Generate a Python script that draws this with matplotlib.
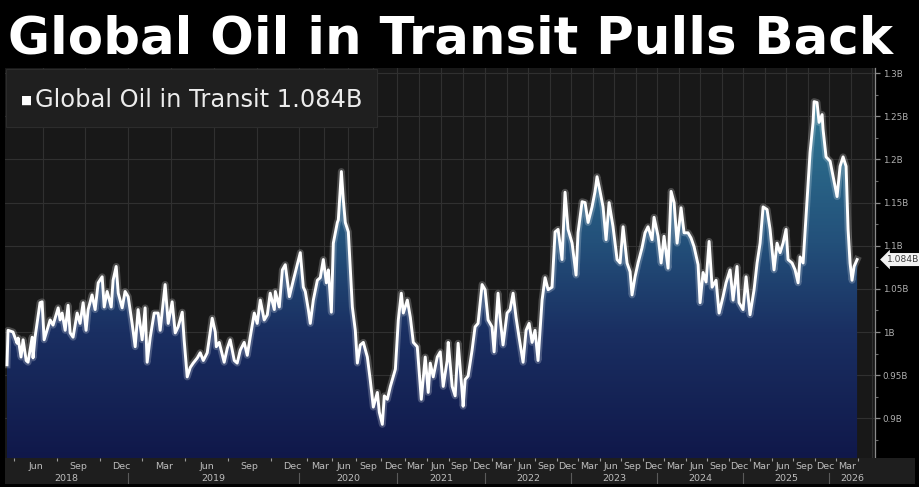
import numpy as np
import matplotlib
matplotlib.use("Agg")
import matplotlib.pyplot as plt
from matplotlib.colors import LinearSegmentedColormap
from matplotlib.transforms import blended_transform_factory
from matplotlib.patches import Rectangle

# ---------------- data (decimal year, billion barrels) ----------------
years = [
 2018.292,2018.298,2018.327,2018.351,2018.357,2018.374,2018.386,2018.404,2018.415,2018.439,
 2018.444,2018.456,2018.485,2018.497,2018.509,2018.526,2018.544,2018.561,2018.573,2018.591,
 2018.602,2018.614,2018.632,2018.649,2018.661,2018.678,2018.702,2018.719,2018.737,2018.754,
 2018.766,2018.789,2018.807,2018.825,2018.848,2018.860,2018.877,2018.901,2018.912,2018.930,
 2018.942,2018.965,2018.982,2019.000,2019.023,2019.041,2019.058,2019.082,2019.099,2019.111,
 2019.129,2019.152,2019.175,2019.187,2019.216,2019.234,2019.257,2019.275,2019.292,2019.316,
 2019.327,2019.345,2019.363,2019.380,2019.404,2019.421,2019.439,2019.462,2019.491,2019.509,
 2019.515,2019.532,2019.561,2019.579,2019.596,2019.620,2019.637,2019.655,2019.678,2019.696,
 2019.713,2019.737,2019.754,2019.772,2019.795,2019.813,2019.830,2019.854,2019.860,2019.883,
 2019.901,2019.918,2019.942,2019.965,
 2020.010,2020.041,2020.061,2020.092,2020.112,2020.143,2020.184,2020.214,2020.245,2020.276,
 2020.296,2020.327,2020.347,2020.388,2020.398,2020.429,2020.449,2020.469,2020.500,2020.541,
 2020.571,2020.592,2020.622,2020.653,2020.694,2020.724,2020.755,2020.796,2020.816,2020.847,
 2020.867,2020.898,2020.929,2020.959,2020.980,
 2021.011,2021.045,2021.068,2021.114,2021.148,2021.182,2021.227,2021.273,2021.318,2021.352,
 2021.375,2021.409,2021.455,2021.489,2021.523,2021.568,2021.580,2021.625,2021.659,2021.693,
 2021.739,2021.750,2021.773,2021.807,2021.852,2021.886,2021.920,2021.966,
 2022.000,2022.035,2022.081,2022.105,2022.151,2022.174,2022.209,2022.256,2022.291,2022.326,
 2022.360,2022.395,2022.442,2022.477,2022.512,2022.547,2022.581,2022.616,2022.663,2022.698,
 2022.733,2022.779,2022.814,2022.849,2022.895,2022.930,2022.965,
 2023.012,2023.058,2023.081,2023.128,2023.163,2023.198,2023.244,2023.279,2023.302,2023.337,
 2023.372,2023.407,2023.442,2023.488,2023.535,2023.570,2023.605,2023.651,2023.686,2023.709,
 2023.744,2023.779,2023.826,2023.860,2023.895,2023.942,2023.965,
 2024.012,2024.047,2024.081,2024.128,2024.163,2024.198,2024.233,2024.279,2024.314,2024.360,
 2024.395,2024.430,2024.477,2024.500,2024.535,2024.570,2024.605,2024.640,2024.686,2024.721,
 2024.767,2024.802,2024.849,2024.884,2024.930,2024.953,
 2025.000,2025.035,2025.081,2025.128,2025.163,2025.198,2025.233,2025.279,2025.314,2025.360,
 2025.395,2025.430,2025.465,2025.500,2025.523,2025.570,2025.605,2025.640,2025.663,2025.698,
 2025.744,2025.779,2025.814,2025.826,2025.860,2025.884,2025.919,2025.930,2025.965,
 2026.012,2026.047,2026.093,2026.128,2026.163,2026.198,2026.221,2026.244,2026.267,2026.291,
 2026.326,
]
oil_in_transit = [
 0.962,1.002,1.000,0.987,0.993,0.971,0.991,0.967,0.965,0.994,
 0.970,0.994,1.034,1.035,0.991,1.002,1.014,1.008,1.016,1.028,
 1.014,1.022,1.002,1.031,0.999,0.994,1.022,1.010,1.034,1.002,
 1.026,1.043,1.026,1.057,1.064,1.029,1.047,1.029,1.060,1.076,
 1.045,1.028,1.047,1.041,1.010,0.983,1.026,0.991,1.028,0.965,
 0.994,1.022,1.022,1.002,1.055,1.010,1.035,0.999,1.006,1.023,
 0.991,0.948,0.959,0.964,0.970,0.976,0.967,0.976,1.016,1.000,
 0.983,0.988,0.965,0.981,0.991,0.967,0.964,0.979,0.988,0.973,
 0.994,1.022,1.010,1.037,1.014,1.020,1.045,1.026,1.047,1.029,
 1.072,1.078,1.041,1.060,
 1.092,1.052,1.047,1.026,1.010,1.037,1.060,1.063,1.084,1.057,
 1.072,1.023,1.103,1.127,1.130,1.186,1.153,1.127,1.116,1.029,
 1.002,0.964,0.985,0.988,0.971,0.944,0.913,0.930,0.907,0.893,
 0.926,0.922,0.937,0.949,0.957,
 1.014,1.045,1.022,1.037,1.017,0.988,0.983,0.922,0.971,0.930,
 0.964,0.948,0.971,0.977,0.937,0.967,0.988,0.937,0.926,0.987,
 0.930,0.914,0.945,0.949,0.979,1.006,1.010,1.055,
 1.049,1.014,1.006,0.977,1.045,1.017,0.985,1.022,1.026,1.045,
 1.017,0.994,0.965,1.002,1.010,0.988,1.002,0.967,1.037,1.063,
 1.049,1.052,1.116,1.119,1.084,1.162,1.119,
 1.103,1.066,1.115,1.151,1.150,1.127,1.145,1.163,1.180,1.163,
 1.145,1.107,1.150,1.122,1.084,1.080,1.122,1.080,1.070,1.043,
 1.064,1.080,1.098,1.115,1.122,1.107,1.133,
 1.111,1.080,1.111,1.074,1.163,1.150,1.103,1.144,1.115,1.115,
 1.109,1.099,1.078,1.034,1.069,1.058,1.105,1.052,1.060,1.022,
 1.041,1.057,1.072,1.037,1.076,1.034,
 1.026,1.064,1.020,1.049,1.080,1.103,1.145,1.142,1.119,1.072,
 1.103,1.092,1.103,1.119,1.084,1.080,1.072,1.057,1.087,1.080,
 1.153,1.208,1.243,1.267,1.266,1.243,1.252,1.235,1.203,
 1.198,1.180,1.157,1.192,1.203,1.192,1.119,1.080,1.060,1.076,
 1.084,
]
series_name = "Global Oil in Transit"
last_value_label = "1.084B"
title = "Global Oil in Transit Pulls Back"

# relative on-screen width of each calendar year (Bloomberg observation-based axis)
axis_years = [2017, 2018, 2019, 2020, 2021, 2022, 2023, 2024, 2025, 2026, 2027, 2028]
year_width = [1.99, 1.99, 1.99, 1.14, 1.02, 1.0, 1.0, 1.0, 1.0, 1.0, 1.0]

y_ticks = [0.90, 0.95, 1.00, 1.05, 1.10, 1.15, 1.20, 1.25, 1.30]
y_tick_labels = ["0.9B", "0.95B", "1B", "1.05B", "1.1B", "1.15B", "1.2B", "1.25B", "1.3B"]
month_labels = {3: "Mar", 6: "Jun", 9: "Sep", 12: "Dec"}
label_years = [2018, 2019, 2020, 2021, 2022, 2023, 2024, 2025, 2026]

# ---------------- scale ----------------
cum = np.concatenate([[0.0], np.cumsum(year_width)])
ay = np.array(axis_years, dtype=float)

def fwd(x):
    return np.interp(x, ay, cum)

def inv(p):
    return np.interp(p, cum, ay)

x = np.array(years)
v = np.array(oil_in_transit)

W, H = 919, 487
fig = plt.figure(figsize=(W / 100, H / 100), dpi=100, facecolor="black")

ax_l, ax_r = 5 / W, 875 / W
ax_b, ax_t = 1 - 458 / H, 1 - 68 / H
ax = fig.add_axes([ax_l, ax_b, ax_r - ax_l, ax_t - ax_b])
ax.set_facecolor("#181818")
ax.set_xscale("function", functions=(fwd, inv))

px_per_unit = 86.0
x_left = inv(fwd(years[0]) - 2 / px_per_unit)
x_right = inv(fwd(years[0]) + 868 / px_per_unit)
ax.set_xlim(x_left, x_right)
ax.set_ylim(0.854, 1.306)

# grid
for yr in range(2018, 2027):
    for m in (1, 4, 7, 10):
        q = yr + (m - 1) / 12
        if x_left < q < x_right:
            ax.axvline(q, color="#303030", lw=0.8, zorder=1)
for t in y_ticks:
    ax.axhline(t, color="#303030", lw=0.8, zorder=1)

# area with gradient
poly = ax.fill_between(x, v, 0.854, color="none", lw=0, zorder=2)
cmap = LinearSegmentedColormap.from_list(
    "g", [(0.0, "#10184a"), (0.35, "#1a2f62"), (0.6, "#23507a"), (1.0, "#2f7893")])
grad = np.linspace(0, 1, 256).reshape(-1, 1)
top_frac = (1.27 - 0.854) / (1.306 - 0.854)
im = ax.imshow(grad, cmap=cmap, origin="lower", aspect="auto",
               extent=[0, 1, 0, top_frac], transform=ax.transAxes, zorder=2)
im.set_clip_path(poly.get_paths()[0], transform=ax.transData)

# line with glow
ax.plot(x, v, color="white", lw=5.0, alpha=0.22, zorder=3, solid_joinstyle="round")
ax.plot(x, v, color="white", lw=2.1, zorder=4, solid_joinstyle="round")

# axes styling
for s in ("top", "left", "bottom"):
    ax.spines[s].set_visible(False)
ax.spines["right"].set_color("#8a8a8a")
ax.spines["right"].set_linewidth(0.9)
ax.yaxis.tick_right()
ax.set_yticks(y_ticks)
ax.set_yticklabels(y_tick_labels)
ax.set_yticks([t + 0.025 for t in y_ticks[:-1]] + [0.875], minor=True)
ax.tick_params(axis="y", which="major", colors="#8a8a8a", labelcolor="#b0b0b0",
               labelsize=6.3, length=3.5, width=0.9, pad=2)
ax.tick_params(axis="y", which="minor", colors="#6a6a6a", length=2, width=0.8)
ax.set_xticks([])
ax.set_xticks([], minor=True)

# last value tag
tr = blended_transform_factory(ax.transAxes, ax.transData)
ax.text(1.014, v[-1], last_value_label, transform=tr, fontsize=6.6, color="#3a3a3a",
        va="center", ha="left", zorder=6, clip_on=False,
        bbox=dict(boxstyle="larrow,pad=0.22", fc="#f2f2f2", ec="none"))

# legend box
ax.add_patch(Rectangle((0.001, 0.848), 0.4266, 0.149, transform=ax.transAxes,
                       fc="#1f1f1f", ec="#2c2c2c", lw=0.8, zorder=5))
ax.text(0.0185, 0.918, "\u25a0", transform=ax.transAxes, color="white", fontsize=8.5,
        va="center", ha="left", zorder=7)
ax.text(0.034, 0.918, f"{series_name} {last_value_label}", transform=ax.transAxes,
        color="#ececec", fontsize=17.4, va="center", ha="left", zorder=7)

# bottom date bar
bar_b, bar_t = 1 - 484 / H, 1 - 458 / H
bar_r = 915 / W
bx = fig.add_axes([ax_l, bar_b, bar_r - ax_l, bar_t - bar_b])
bx.set_facecolor("#1e1e1e")
bx.set_xscale("function", functions=(fwd, inv))
bar_right = inv(fwd(x_left) + (915 - 5) / px_per_unit)
bx.set_xlim(x_left, bar_right)
bx.set_ylim(0, 1)
for s in bx.spines.values():
    s.set_visible(False)
bx.set_yticks([])
last_year = years[-1]
tick_pos = [yr + (m - 1) / 12 for yr in range(2018, 2027) for m in (2, 5, 8, 11)
            if x_left < yr + (m - 1) / 12 < x_right]
bx.set_xticks(tick_pos)
bx.set_xticklabels([])
bx.tick_params(axis="x", direction="in", top=True, bottom=False, length=2.5,
               color="#9a9a9a", width=0.8)
for yr in range(2018, 2027):
    for m, lab in month_labels.items():
        pos = yr + (m - 0.5) / 12
        if x_left < pos < last_year + 0.05:
            bx.text(pos, 0.66, lab, fontsize=6.8, color="#bdbdbd", ha="center", va="center")
for yr in label_years:
    lo = max(yr, x_left)
    hi = min(yr + 1, x_right)
    mid = inv((fwd(lo) + fwd(hi)) / 2)
    bx.text(mid, 0.22, str(yr), fontsize=6.8, color="#bdbdbd", ha="center", va="center")
    if yr > 2018:
        bx.plot([yr, yr], [0.0, 0.42], color="#5a5a5a", lw=0.8)

# title
fig.text(8 / W, 1 - 53 / H, title, fontsize=37, fontweight="bold", color="white",
         family="DejaVu Sans", ha="left", va="baseline")

fig.savefig("out.png", dpi=100, facecolor="black")
